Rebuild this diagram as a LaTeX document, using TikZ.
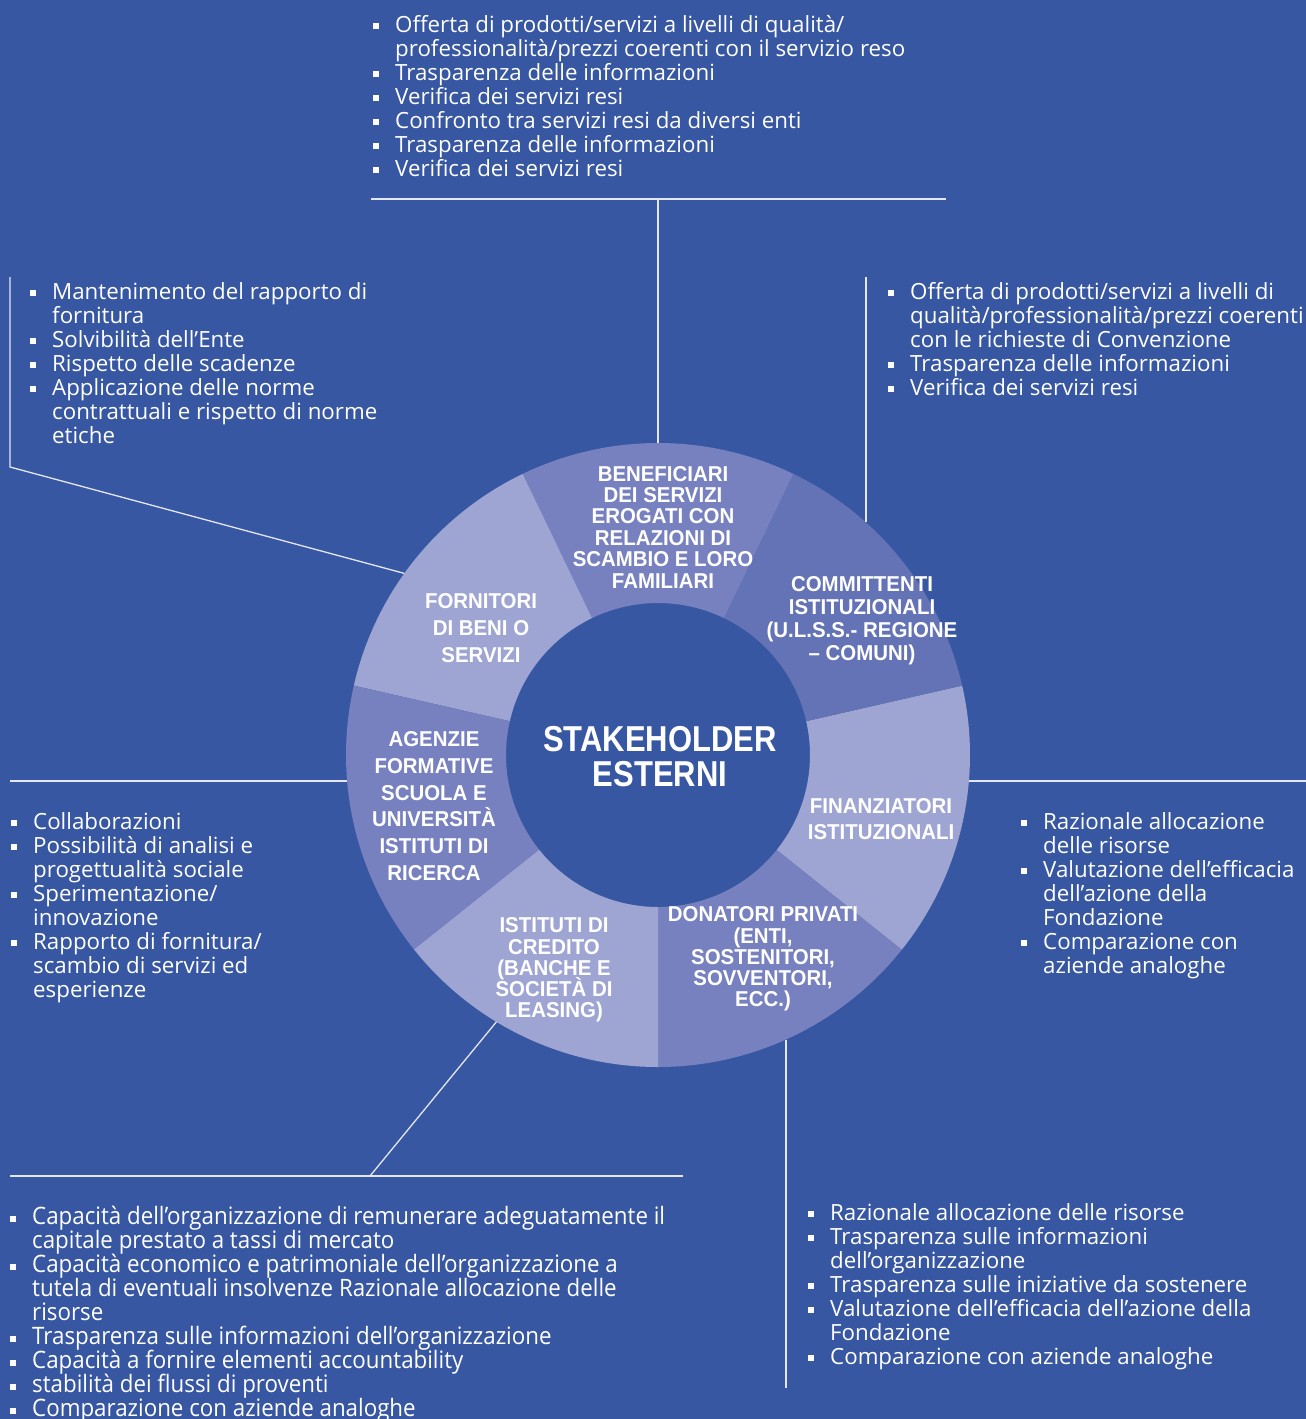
\documentclass[tikz,border=0pt]{standalone}
\usepackage{fontspec}
\setmainfont{Open Sans}
\newfontfamily\bodyfont{Open Sans}
\newfontfamily\bodycondfont{Open Sans}[FakeStretch=0.93]
\newfontfamily\labfont{Liberation Sans}[FakeStretch=0.95]
\newfontfamily\centrefont{Liberation Sans}[FakeStretch=0.86]
\usetikzlibrary{calc}
\definecolor{bg}{HTML}{3857A2}
\definecolor{seglight}{HTML}{9FA5D3}
\definecolor{segmid}{HTML}{7881BF}
\definecolor{segdark}{HTML}{6473B6}
\definecolor{linecol}{HTML}{E4E7F2}
\newcommand\bitem{\strut\makebox[22pt][l]{\rule[3pt]{6pt}{6pt}}}
\newcommand\bcont{\strut\hspace*{22pt}}
\newcommand\tightlines{\lineskiplimit=-100pt\lineskip=0pt}
\tikzset{
  bodytxt/.style={anchor=north west, inner sep=0pt, align=left, text=white,
    font=\bodyfont\fontsize{22.3}{24}\selectfont\tightlines},
  bodycond/.style={bodytxt, font=\bodycondfont\fontsize{24}{24}\selectfont\tightlines},
  lbl/.style={align=center, inner sep=0pt, text=white},
  conn/.style={draw=linecol, line width=1.3pt},
}
\begin{document}
\begin{tikzpicture}[x=1pt,y=1pt]
\useasboundingbox (0,0) rectangle (1306,-1419);
\fill[bg] (0,0) rectangle (1306,-1419);

% ring
\coordinate (C) at (658,-755);
\foreach \a/\b/\c in {-90/-38.571/segmid, -38.571/12.857/seglight, 12.857/64.286/segdark,
  64.286/115.714/segmid, 115.714/167.143/seglight, 167.143/218.571/segmid, 218.571/270/seglight}
  \fill[\c] ($(C)+(\a:312pt)$) arc[start angle=\a, end angle=\b, radius=312pt]
     -- ($(C)+(\b:152pt)$) arc[start angle=\b, end angle=\a, radius=152pt] -- cycle;

% ring labels
\node[lbl, font=\centrefont\bfseries\fontsize{36}{35}\selectfont\tightlines] (centre) at (660,-757) {STAKEHOLDER\\ESTERNI};
\node[lbl, font=\labfont\bfseries\fontsize{21.5}{21.4}\selectfont\tightlines] (benef) at (663,-527)
  {BENEFICIARI\\DEI SERVIZI\\EROGATI CON\\RELAZIONI DI\\SCAMBIO E LORO\\FAMILIARI};
\node[lbl, font=\labfont\bfseries\fontsize{21.5}{23}\selectfont\tightlines] (committ) at (862,-621)
  {COMMITTENTI\\ISTITUZIONALI\\(U.L.S.S.- REGIONE\\– COMUNI)};
\node[lbl, font=\labfont\bfseries\fontsize{21.5}{27}\selectfont\tightlines] (fornit) at (481,-628)
  {FORNITORI\\DI BENI O\\SERVIZI};
\node[lbl, font=\labfont\bfseries\fontsize{21.5}{26.8}\selectfont\tightlines] (agenzie) at (434,-806)
  {AGENZIE\\FORMATIVE\\SCUOLA E\\UNIVERSITÀ\\ISTITUTI DI\\RICERCA};
\node[lbl, font=\labfont\bfseries\fontsize{21.5}{26}\selectfont\tightlines] (finanz) at (881,-819)
  {FINANZIATORI\\ISTITUZIONALI};
\node[lbl, font=\labfont\bfseries\fontsize{21.5}{21.2}\selectfont\tightlines] (donat) at (763,-959)
  {DONATORI PRIVATI\\(ENTI,\\SOSTENITORI,\\SOVVENTORI,\\ECC.)};
\node[lbl, font=\labfont\bfseries\fontsize{21.5}{21.2}\selectfont\tightlines] (istit) at (554,-970)
  {ISTITUTI DI\\CREDITO\\(BANCHE E\\SOCIETÀ DI\\LEASING)};

% connector coordinates
\coordinate (rTop) at ($(C)+(90:312pt)$);
\coordinate (tL) at (371,-199);
\coordinate (tR) at (946,-199);
\coordinate (tJ) at (658,-199);
\coordinate (ulT) at (10,-277);
\coordinate (ulB) at (10,-467);
\coordinate (rUL) at ($(C)+(144.4:312pt)$);
\coordinate (urT) at (866,-277);
\coordinate (rUR) at (866,-522);
\coordinate (lL) at (10,-781);
\coordinate (rL) at (347,-781);
\coordinate (rR) at (969,-781);
\coordinate (rRR) at (1306,-781);
\coordinate (blL) at (10,-1176);
\coordinate (blR) at (683,-1176);
\coordinate (blJ) at (370,-1176);
\coordinate (rBL) at ($(C)+(238.8:312pt)$);
\coordinate (rBR) at (786,-1039.5);
\coordinate (brB) at (786,-1388);

\draw[conn] (tL) -- (tR);
\draw[conn] (tJ) -- (rTop);
\draw[conn] (ulT) -- (ulB) -- (rUL);
\draw[conn] (urT) -- (rUR);
\draw[conn] (lL) -- (rL);
\draw[conn] (rR) -- (rRR);
\draw[conn] (blL) -- (blR);
\draw[conn] (blJ) -- (rBL);
\draw[conn] (rBR) -- (brB);

% text blocks
\node[bodytxt] (topList) at (373,-15) {%
\bitem Offerta di prodotti/servizi a livelli di qualità/\\
\bcont professionalità/prezzi coerenti con il servizio reso\\
\bitem Trasparenza delle informazioni\\
\bitem Verifica dei servizi resi\\
\bitem Confronto tra servizi resi da diversi enti\\
\bitem Trasparenza delle informazioni\\
\bitem Verifica dei servizi resi};

\node[bodytxt] (ulList) at (30,-282) {%
\bitem Mantenimento del rapporto di\\
\bcont fornitura\\
\bitem Solvibilità dell’Ente\\
\bitem Rispetto delle scadenze\\
\bitem Applicazione delle norme\\
\bcont contrattuali e rispetto di norme\\
\bcont etiche};

\node[bodytxt] (urList) at (888,-282) {%
\bitem Offerta di prodotti/servizi a livelli di\\
\bcont qualità/professionalità/prezzi coerenti\\
\bcont con le richieste di Convenzione\\
\bitem Trasparenza delle informazioni\\
\bitem Verifica dei servizi resi};

\node[bodytxt] (lList) at (11,-812) {%
\bitem Collaborazioni\\
\bitem Possibilità di analisi e\\
\bcont progettualità sociale\\
\bitem Sperimentazione/\\
\bcont innovazione\\
\bitem Rapporto di fornitura/\\
\bcont scambio di servizi ed\\
\bcont esperienze};

\node[bodytxt] (rList) at (1021,-812) {%
\bitem Razionale allocazione\\
\bcont delle risorse\\
\bitem Valutazione dell’efficacia\\
\bcont dell’azione della\\
\bcont Fondazione\\
\bitem Comparazione con\\
\bcont aziende analoghe};

\node[bodycond] (blList) at (10,-1206) {%
\bitem Capacità dell’organizzazione di remunerare adeguatamente il\\
\bcont capitale prestato a tassi di mercato\\
\bitem Capacità economico e patrimoniale dell’organizzazione a\\
\bcont tutela di eventuali insolvenze Razionale allocazione delle\\
\bcont risorse\\
\bitem Trasparenza sulle informazioni dell’organizzazione\\
\bitem Capacità a fornire elementi accountability\\
\bitem stabilità dei flussi di proventi\\
\bitem Comparazione con aziende analoghe};

\node[bodytxt] (brList) at (808,-1203) {%
\bitem Razionale allocazione delle risorse\\
\bitem Trasparenza sulle informazioni\\
\bcont dell’organizzazione\\
\bitem Trasparenza sulle iniziative da sostenere\\
\bitem Valutazione dell’efficacia dell’azione della\\
\bcont Fondazione\\
\bitem Comparazione con aziende analoghe};
\end{tikzpicture}
\end{document}
